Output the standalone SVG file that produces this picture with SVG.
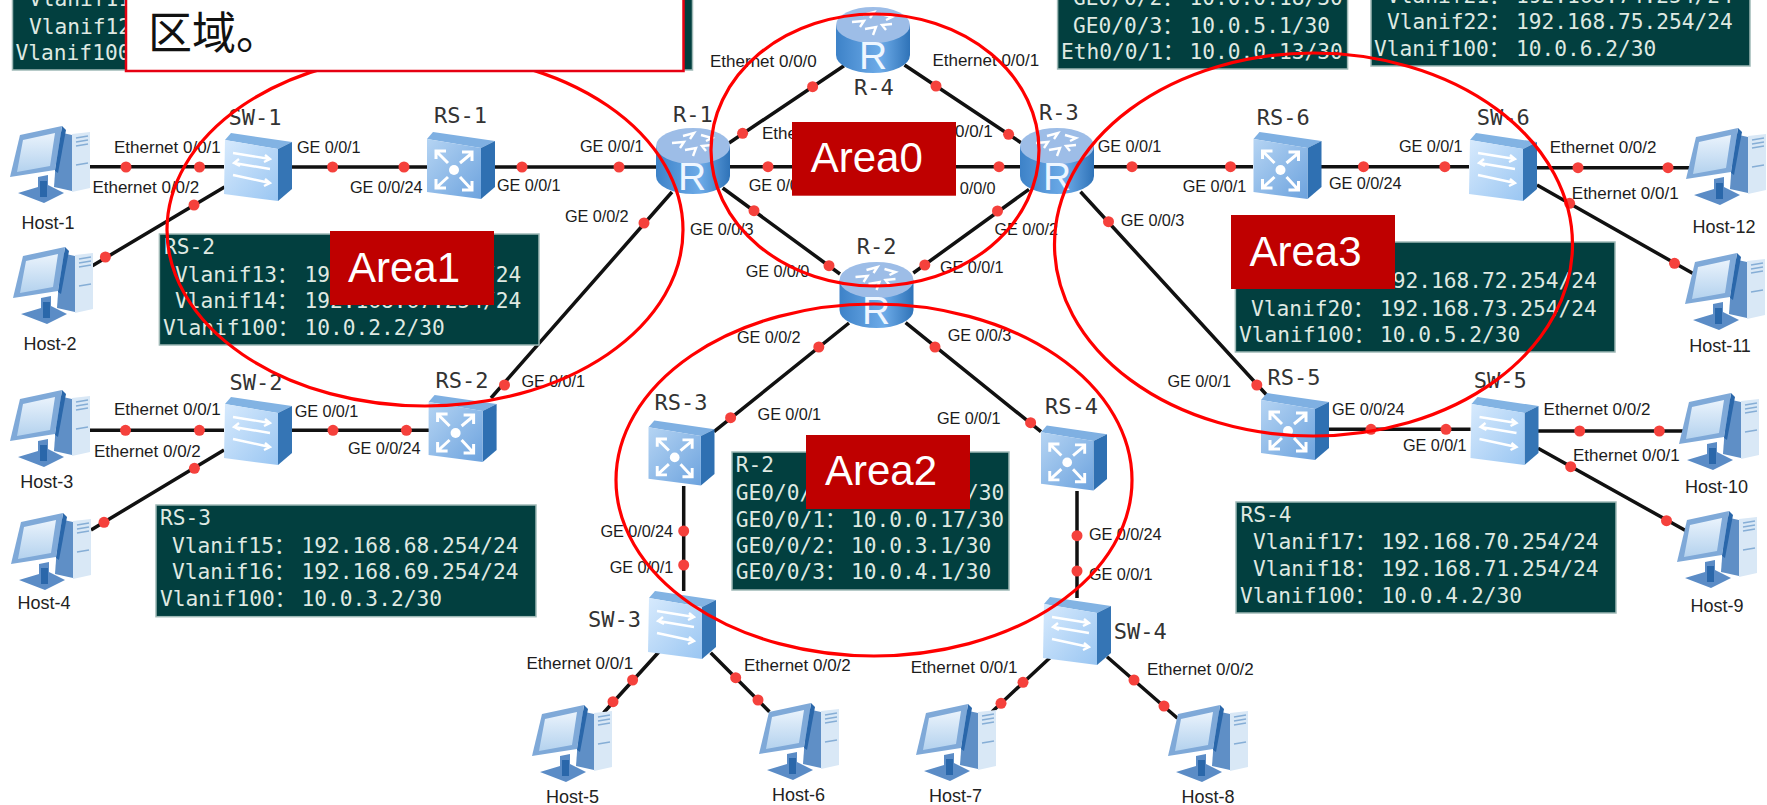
<svg xmlns="http://www.w3.org/2000/svg" xmlns:xlink="http://www.w3.org/1999/xlink" width="1767" height="805" viewBox="0 0 1767 805">
<style>
text{font-family:"Liberation Sans","Noto Sans CJK SC",sans-serif}
.bg{fill:#fff}
.c{stroke:#111;stroke-width:3.5;fill:none}
.d{fill:#f5413c}
.d circle{r:5.5px}
.p{font-size:16.3px;fill:#1c1c1c;letter-spacing:-.1px}
.e{font-size:17px;fill:#1c1c1c}
.n{font-family:"DejaVu Sans Mono","Liberation Mono",monospace;font-size:22px;fill:#333}
.h{font-size:18px;fill:#222}
.rl{font-size:39px;fill:#eef6ff;text-anchor:middle}
.pan{fill:#023f3f;stroke:#9fb9b6;stroke-width:1.5}
.t{font-family:"DejaVu Sans Mono","Noto Sans CJK SC",monospace;font-size:21.2px;fill:#dfe9e2}
.ring{fill:none;stroke:#f00;stroke-width:3.2}
.ab{fill:#bf0000}
.at{font-size:42px;fill:#fff}
</style>
<defs>
<linearGradient id="gs" x1="0" y1="0" x2="0" y2="1"><stop offset="0" stop-color="#eaf3fc"/><stop offset="1" stop-color="#b4d2ee"/></linearGradient>
<linearGradient id="gf" x1="0" y1="0" x2="1" y2="1"><stop offset="0" stop-color="#d7eafd"/><stop offset="1" stop-color="#9ac6f2"/></linearGradient>
<linearGradient id="gr" x1="0" y1="0" x2="1" y2="1"><stop offset="0" stop-color="#b5d4f3"/><stop offset="1" stop-color="#6da3de"/></linearGradient>
<linearGradient id="gb" x1="0" y1="0" x2="1" y2="0"><stop offset="0" stop-color="#3d82c8"/><stop offset=".6" stop-color="#6dabe8"/><stop offset="1" stop-color="#2f73b8"/></linearGradient>
<symbol id="host" viewBox="0 0 80 80" overflow="visible">
<polygon points="48,7 62,10 62,66 44,62" fill="#5f8fc6"/>
<polygon points="62,9 80,7 80,63 62,67" fill="#d9e8f6"/>
<path d="M66,13 78,11M66,17 78,15M66,21 78,19M66,40 78,38" stroke="#86aed6" stroke-width="1.5"/>
<polygon points="52,1 56,5 48,48 45,46" fill="#2a67aa"/>
<polygon points="10,10 52,1 45,45 0,52" fill="#7fa9d8"/>
<polygon points="13,15 45,8 40,41 7,47" fill="url(#gs)"/>
<polygon points="8,68 28,62 28,52 38,50 38,60 54,68 34,78" fill="#5b8cc6"/>
<rect x="30" y="56" width="7" height="16" fill="#2a67aa"/>
</symbol>
<symbol id="sw" viewBox="0 0 68 68" overflow="visible">
<polygon points="7,0 68,9 54,16 1,7" fill="#82b3e3"/>
<polygon points="54,16 68,9 68,56 54,68" fill="#3575b5"/>
<polygon points="1,7 54,16 54,68 0,61" fill="url(#gf)"/>
<path d="M9,20 46,26M41,22 46,26 40,29M46,36 10,30M15,26 10,30 16,33M9,42 46,50M41,46 46,50 40,53" stroke="#fff" stroke-width="2.4" fill="none"/>
</symbol>
<symbol id="rs" viewBox="0 0 68 68" overflow="visible">
<polygon points="6,0 68,9 54,16 0,7" fill="#7fb0e2"/>
<polygon points="54,16 68,9 68,55 54,67" fill="#2f70b2"/>
<polygon points="0,7 54,16 54,67 0,60" fill="url(#gr)"/>
<circle cx="27" cy="38" r="5" fill="#fff"/>
<path d="M9,19 21,31M9,27 V19 H19M45,21 33,31M35,20 H45 V29M9,56 21,45M9,47 V56 H19M45,58 33,45M45,49 V58 H35" stroke="#fff" stroke-width="3" fill="none"/>
</symbol>
<symbol id="rt" viewBox="0 0 74 66" overflow="visible">
<path d="M0,18 V48 A37,18 0 0 0 74,48 V18 Z" fill="url(#gb)"/>
<ellipse cx="37" cy="18" rx="37" ry="18" fill="#9dbde7"/>
<path d="M27,8 38,5 34,11M45,7 56,10 50,13M16,15 28,14 24,20M56,17 46,18 50,23M29,22 40,20 37,28" stroke="#fff" stroke-width="2.4" fill="none"/>
</symbol>
</defs>
<rect class="bg" width="1767" height="805"/>
<g id="connectors">
<path class="c" d="M90,166.7H224M291,167H427M494,167H656M92.4,265.7 224.5,187M672,192 491,398M90,430.3H224M291,430.3H429M91,530 224,450M729,143 844,65.7M904.5,65 1021,142.7M730,166.7H1020M722.7,188 840,274M1029,189.3 913.3,273M849,323 714,431.7M905.6,322.7 1041,431.7M683.7,486V591M1077,491V598M659,651.7 603.6,712.7M710.7,652.7 769.4,711.7M1051,656.7 992,711.7M1107,656.7 1177.5,718.3M1094,166.7H1253M1320,166.7H1469M1536,167.7H1690M1537,185 1692.6,273.3M1080.5,191.7 1268.7,397.3M1328,429.3H1470.5M1538,431H1683M1538,448.3 1686.4,531"/>
<g class="d">
<circle cx="126" cy="167" r="5"/><circle cx="199.5" cy="167" r="5"/><circle cx="332.6" cy="167" r="5"/><circle cx="404" cy="167" r="5"/><circle cx="522" cy="167" r="5"/><circle cx="619" cy="167" r="5"/>
<circle cx="105.4" cy="257" r="5"/><circle cx="194" cy="205" r="5"/><circle cx="644" cy="223" r="5"/><circle cx="504.5" cy="385" r="5"/>
<circle cx="125.5" cy="430.3" r="5"/><circle cx="199.4" cy="430.3" r="5"/><circle cx="333" cy="430.3" r="5"/><circle cx="406.4" cy="430.3" r="5"/>
<circle cx="104" cy="522.3" r="5"/><circle cx="194.4" cy="468.3" r="5"/>
<circle cx="742.6" cy="133.3" r="5"/><circle cx="812.6" cy="86.7" r="5"/><circle cx="936" cy="86" r="5"/><circle cx="1008.6" cy="134.3" r="5"/>
<circle cx="768" cy="166.7" r="5"/><circle cx="999" cy="166.7" r="5"/><circle cx="754" cy="210.7" r="5"/><circle cx="829" cy="265.7" r="5"/><circle cx="997.5" cy="211" r="5"/><circle cx="924.8" cy="265" r="5"/>
<circle cx="818.8" cy="347" r="5"/><circle cx="730.6" cy="417.7" r="5"/><circle cx="935" cy="347" r="5"/><circle cx="1030.6" cy="422.7" r="5"/>
<circle cx="683.7" cy="531" r="5"/><circle cx="683.7" cy="565" r="5"/><circle cx="1077" cy="535.7" r="5"/><circle cx="1077" cy="571" r="5"/>
<circle cx="632.6" cy="680" r="5"/><circle cx="613" cy="701.7" r="5"/><circle cx="735.7" cy="677.7" r="5"/><circle cx="758" cy="700" r="5"/><circle cx="1023" cy="682.3" r="5"/><circle cx="1001" cy="703.3" r="5"/><circle cx="1134" cy="680" r="5"/><circle cx="1164" cy="706" r="5"/>
<circle cx="1132" cy="166.7" r="5"/><circle cx="1230.5" cy="166.7" r="5"/><circle cx="1363.5" cy="166.7" r="5"/><circle cx="1444.8" cy="166.7" r="5"/><circle cx="1578" cy="167.7" r="5"/><circle cx="1668" cy="167.7" r="5"/>
<circle cx="1569.6" cy="203.3" r="5"/><circle cx="1674.5" cy="263.3" r="5"/><circle cx="1108.5" cy="221.7" r="5"/><circle cx="1256.8" cy="385" r="5"/>
<circle cx="1371" cy="429.3" r="5"/><circle cx="1446" cy="429.3" r="5"/><circle cx="1579.7" cy="431" r="5"/><circle cx="1659.3" cy="431" r="5"/><circle cx="1570.7" cy="466.7" r="5"/><circle cx="1666.5" cy="520.7" r="5"/>
</g>
</g>
<g id="port-labels">
<text class="e" x="114" y="153">Ethernet 0/0/1</text><text class="e" x="92.4" y="192.7">Ethernet 0/0/2</text>
<text class="p" x="297" y="153">GE 0/0/1</text><text class="p" x="350" y="192.7">GE 0/0/24</text><text class="p" x="497" y="191">GE 0/0/1</text><text class="p" x="580" y="151.7">GE 0/0/1</text><text class="p" x="565" y="222">GE 0/0/2</text><text class="p" x="521.4" y="386.7">GE 0/0/1</text>
<text class="e" x="114" y="415">Ethernet 0/0/1</text><text class="e" x="94" y="457">Ethernet 0/0/2</text><text class="p" x="294.7" y="416.7">GE 0/0/1</text><text class="p" x="348" y="454">GE 0/0/24</text>
<text class="e" x="710" y="67">Ethernet 0/0/0</text><text class="e" x="932.4" y="65.7">Ethernet 0/0/1</text><text class="e" x="762" y="139">Ethernet 0/0/1</text><text class="e" x="886" y="137">Ethernet 0/0/1</text>
<text class="p" x="748.7" y="191">GE 0/0/0</text><text class="p" x="932" y="194">GE 0/0/0</text><text class="p" x="690" y="235">GE 0/0/3</text><text class="p" x="994.4" y="235">GE 0/0/2</text><text class="p" x="745.7" y="277">GE 0/0/0</text><text class="p" x="940" y="272.7">GE 0/0/1</text><text class="p" x="737" y="342.7">GE 0/0/2</text><text class="p" x="947.7" y="341">GE 0/0/3</text>
<text class="p" x="1097.8" y="151.7">GE 0/0/1</text><text class="p" x="1120.7" y="225.7">GE 0/0/3</text><text class="p" x="1182.7" y="192.3">GE 0/0/1</text><text class="p" x="1167.4" y="386.7">GE 0/0/1</text>
<text class="p" x="1329" y="189">GE 0/0/24</text><text class="p" x="1399" y="151.7">GE 0/0/1</text><text class="e" x="1549.7" y="153">Ethernet 0/0/2</text><text class="e" x="1571.8" y="199">Ethernet 0/0/1</text>
<text class="p" x="1332" y="415">GE 0/0/24</text><text class="p" x="1403" y="451">GE 0/0/1</text><text class="e" x="1543.6" y="415">Ethernet 0/0/2</text><text class="e" x="1573" y="460.7">Ethernet 0/0/1</text>
<text class="p" x="757.6" y="420">GE 0/0/1</text><text class="p" x="937" y="424">GE 0/0/1</text><text class="p" x="600.5" y="537">GE 0/0/24</text><text class="p" x="609.7" y="573">GE 0/0/1</text><text class="p" x="1089" y="540">GE 0/0/24</text><text class="p" x="1089" y="580">GE 0/0/1</text>
<text class="e" x="526.5" y="669">Ethernet 0/0/1</text><text class="e" x="744" y="671">Ethernet 0/0/2</text><text class="e" x="910.7" y="672.7">Ethernet 0/0/1</text><text class="e" x="1147" y="675">Ethernet 0/0/2</text>
</g>
<g id="Host-1"><use href="#host" x="10" y="125" width="80" height="80"/><text class="h" x="48" y="229" text-anchor="middle">Host-1</text></g>
<g id="Host-2"><use href="#host" x="13" y="246" width="80" height="80"/><text class="h" x="50" y="350" text-anchor="middle">Host-2</text></g>
<g id="Host-3"><use href="#host" x="10" y="389" width="80" height="80"/><text class="h" x="46.7" y="488" text-anchor="middle">Host-3</text></g>
<g id="Host-4"><use href="#host" x="11" y="512" width="80" height="80"/><text class="h" x="44" y="609" text-anchor="middle">Host-4</text></g>
<g id="Host-5"><use href="#host" x="532" y="704" width="80" height="80"/><text class="h" x="572.4" y="803" text-anchor="middle">Host-5</text></g>
<g id="Host-6"><use href="#host" x="759" y="702" width="80" height="80"/><text class="h" x="798.5" y="800.7" text-anchor="middle">Host-6</text></g>
<g id="Host-7"><use href="#host" x="916" y="703" width="80" height="80"/><text class="h" x="955.6" y="802" text-anchor="middle">Host-7</text></g>
<g id="Host-8"><use href="#host" x="1168" y="704" width="80" height="80"/><text class="h" x="1208" y="803" text-anchor="middle">Host-8</text></g>
<g id="Host-9"><use href="#host" x="1677" y="510" width="80" height="80"/><text class="h" x="1717" y="612" text-anchor="middle">Host-9</text></g>
<g id="Host-10"><use href="#host" x="1679" y="392" width="80" height="80"/><text class="h" x="1716.5" y="493" text-anchor="middle">Host-10</text></g>
<g id="Host-11"><use href="#host" x="1685" y="252" width="80" height="80"/><text class="h" x="1720" y="351.7" text-anchor="middle">Host-11</text></g>
<g id="Host-12"><use href="#host" x="1686" y="127" width="80" height="80"/><text class="h" x="1724" y="232.7" text-anchor="middle">Host-12</text></g>
<g id="SW-1"><use href="#sw" x="224" y="133" width="68" height="68"/><text class="n" x="228.6" y="125">SW-1</text></g>
<g id="SW-2"><use href="#sw" x="224" y="397" width="68" height="68"/><text class="n" x="229.6" y="390">SW-2</text></g>
<g id="SW-3"><use href="#sw" x="648" y="591" width="68" height="68"/><text class="n" x="588" y="626.7">SW-3</text></g>
<g id="SW-4"><use href="#sw" x="1043" y="597" width="68" height="68"/><text class="n" x="1113.8" y="638.7">SW-4</text></g>
<g id="SW-5"><use href="#sw" x="1470.5" y="397" width="68" height="68"/><text class="n" x="1473.8" y="388">SW-5</text></g>
<g id="SW-6"><use href="#sw" x="1469" y="133" width="68" height="68"/><text class="n" x="1476.7" y="125">SW-6</text></g>
<g id="RS-1"><use href="#rs" x="427" y="132" width="68" height="68"/><text class="n" x="434" y="123">RS-1</text></g>
<g id="RS-2"><use href="#rs" x="428.6" y="395" width="68" height="68"/><text class="n" x="435.5" y="388">RS-2</text></g>
<g id="RS-3"><use href="#rs" x="648.5" y="420" width="66" height="67"/><text class="n" x="654.6" y="410">RS-3</text></g>
<g id="RS-4"><use href="#rs" x="1041" y="425" width="66" height="67"/><text class="n" x="1045" y="414">RS-4</text></g>
<g id="RS-5"><use href="#rs" x="1261" y="393" width="68" height="68"/><text class="n" x="1267.6" y="385">RS-5</text></g>
<g id="RS-6"><use href="#rs" x="1253.5" y="132" width="68" height="68"/><text class="n" x="1256.8" y="125">RS-6</text></g>
<g id="R-1"><use href="#rt" x="656" y="128" width="74" height="66"/><text class="rl" x="692" y="190">R</text><text class="n" x="673" y="121.7">R-1</text></g>
<g id="R-2"><use href="#rt" x="839.5" y="262" width="74" height="66"/><text class="rl" x="876" y="324">R</text><text class="n" x="856.7" y="254">R-2</text></g>
<g id="R-3"><use href="#rt" x="1020" y="128" width="74" height="66"/><text class="rl" x="1057" y="190">R</text><text class="n" x="1039" y="120">R-3</text></g>
<g id="R-4"><use href="#rt" x="836" y="7" width="74" height="66"/><text class="rl" x="873" y="69">R</text><text class="n" x="854" y="95">R-4</text></g>
<g id="panel-RS-1"><rect class="pan" x="12.5" y="-10" width="680" height="80"/>
<text class="t" x="29" y="6">Vlanif11</text>
<text class="t" x="29" y="34">Vlanif12</text>
<text class="t" x="15.6" y="60">Vlanif100</text></g>
<g id="panel-RS-2"><rect class="pan" x="159.4" y="234" width="379.6" height="111"/>
<text class="t" x="164" y="254">RS-2</text>
<text class="t" y="281.7"><tspan x="175">Vlanif13： </tspan><tspan x="304.5">192.168.66.254/24</tspan></text>
<text class="t" y="308"><tspan x="175">Vlanif14： </tspan><tspan x="304.5">192.168.67.254/24</tspan></text>
<text class="t" y="335"><tspan x="163">Vlanif100： </tspan><tspan x="304.5">10.0.2.2/30</tspan></text></g>
<g id="panel-RS-3"><rect class="pan" x="156" y="505" width="380" height="111.7"/>
<text class="t" x="160" y="525">RS-3</text>
<text class="t" y="552.7"><tspan x="172">Vlanif15： </tspan><tspan x="301.6">192.168.68.254/24</tspan></text>
<text class="t" y="579"><tspan x="172">Vlanif16： </tspan><tspan x="301.6">192.168.69.254/24</tspan></text>
<text class="t" y="606"><tspan x="160">Vlanif100： </tspan><tspan x="301.6">10.0.3.2/30</tspan></text></g>
<g id="panel-R-2"><rect class="pan" x="732" y="452" width="277" height="138"/>
<text class="t" x="735.7" y="471.7">R-2</text>
<text class="t" y="500"><tspan x="735.7">GE0/0/</tspan><tspan x="966">/30</tspan></text>
<text class="t" y="526.7"><tspan x="735.7">GE0/0/1： </tspan><tspan x="851">10.0.0.17/30</tspan></text>
<text class="t" y="553"><tspan x="735.7">GE0/0/2： </tspan><tspan x="851">10.0.3.1/30</tspan></text>
<text class="t" y="579"><tspan x="735.7">GE0/0/3： </tspan><tspan x="851">10.0.4.1/30</tspan></text></g>
<g id="panel-RS-4"><rect class="pan" x="1236" y="502" width="380" height="111"/>
<text class="t" x="1240.5" y="521.7">RS-4</text>
<text class="t" y="549"><tspan x="1253">Vlanif17： </tspan><tspan x="1381.6">192.168.70.254/24</tspan></text>
<text class="t" y="576"><tspan x="1253">Vlanif18： </tspan><tspan x="1381.6">192.168.71.254/24</tspan></text>
<text class="t" y="602.7"><tspan x="1240">Vlanif100： </tspan><tspan x="1381.6">10.0.4.2/30</tspan></text></g>
<g id="panel-RS-5"><rect class="pan" x="1235.4" y="242" width="379.6" height="110"/>
<text class="t" y="288"><tspan x="1251">Vlanif19： </tspan><tspan x="1380">192.168.72.254/24</tspan></text>
<text class="t" y="315.7"><tspan x="1251">Vlanif20： </tspan><tspan x="1380">192.168.73.254/24</tspan></text>
<text class="t" y="342.3"><tspan x="1239">Vlanif100： </tspan><tspan x="1380">10.0.5.2/30</tspan></text></g>
<g id="panel-R-3"><rect class="pan" x="1057.6" y="-10" width="290" height="79"/>
<text class="t" y="5"><tspan x="1073">GE0/0/2： </tspan><tspan x="1189.6">10.0.0.18/30</tspan></text>
<text class="t" y="32.7"><tspan x="1073">GE0/0/3： </tspan><tspan x="1189.6">10.0.5.1/30</tspan></text>
<text class="t" y="59"><tspan x="1061">Eth0/0/1： </tspan><tspan x="1189.6">10.0.0.13/30</tspan></text></g>
<g id="panel-RS-6"><rect class="pan" x="1371" y="-10" width="379" height="76"/>
<text class="t" y="3"><tspan x="1387">Vlanif21： </tspan><tspan x="1516">192.168.74.254/24</tspan></text>
<text class="t" y="29"><tspan x="1387">Vlanif22： </tspan><tspan x="1516">192.168.75.254/24</tspan></text>
<text class="t" y="56"><tspan x="1374">Vlanif100： </tspan><tspan x="1516">10.0.6.2/30</tspan></text></g>
<g id="areas">
<ellipse class="ring" cx="425" cy="230" rx="258" ry="176"/>
<ellipse class="ring" cx="875" cy="150" rx="164" ry="136"/>
<ellipse class="ring" cx="874" cy="480" rx="258" ry="176"/>
<ellipse class="ring" cx="1313.5" cy="244.5" rx="259" ry="191.5"/>
<g id="Area1"><rect class="ab" x="330" y="231" width="164" height="74"/><text class="at" x="348" y="281.7">Area1</text></g>
<g id="Area0"><rect class="ab" x="792" y="122" width="164" height="73.7"/><text class="at" x="810.7" y="172">Area0</text></g>
<g id="Area2"><rect class="ab" x="806" y="435" width="164" height="74"/><text class="at" x="825" y="485">Area2</text></g>
<g id="Area3"><rect class="ab" x="1231" y="215" width="164" height="74"/><text class="at" x="1249.5" y="266">Area3</text></g>
</g>
<g id="note"><rect x="126" y="-10" width="557.5" height="81" fill="#fff" stroke="#e60012" stroke-width="2.5"/>
<text x="148" y="49" font-size="44" fill="#111" style="font-family:'Noto Sans CJK SC','Liberation Serif',serif">区域。</text></g>
</svg>
